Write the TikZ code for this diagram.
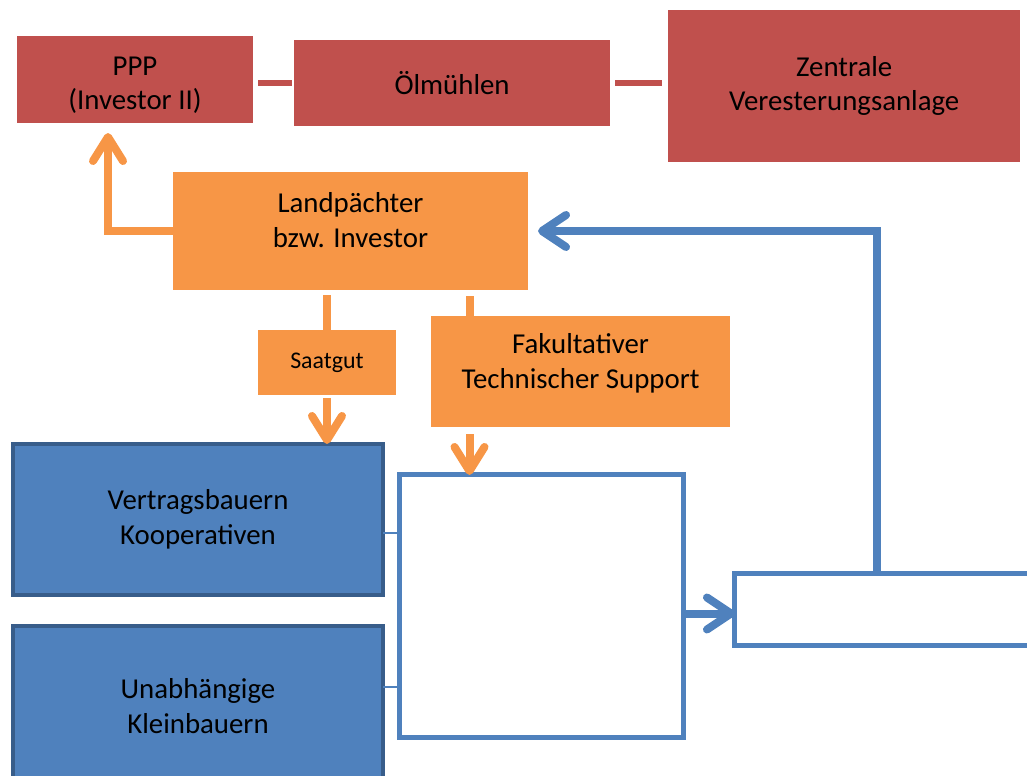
\documentclass[tikz,border=0pt]{standalone}
\usepackage{fontspec}
\setmainfont{Carlito}
\usepackage{xcolor}
\definecolor{boxred}{HTML}{C0504D}
\definecolor{boxorange}{HTML}{F79646}
\definecolor{boxblue}{HTML}{4F81BD}
\definecolor{darkblue}{HTML}{385D8A}
\usepackage{tikz}
\usetikzlibrary{positioning, arrows.meta, calc}

\begin{document}
\begin{tikzpicture}[x=0.025cm, y=-0.025cm, node distance=1cm,
    every node/.style={font=\fontsize{20.5}{24.5}\selectfont, align=center, inner sep=0pt, outer sep=0pt},
    redbox/.style={rectangle, fill=boxred},
    orangebox/.style={rectangle, fill=boxorange},
    farmbox/.style={rectangle, fill=boxblue, draw=darkblue, line width=0.1cm},
    openbox/.style={rectangle, fill=white, draw=boxblue, line width=0.125cm},
    redlink/.style={boxred, line width=0.16cm},
    orangelink/.style={boxorange, line width=0.2cm},
    orangearrow/.style={orangelink, -{Straight Barb[length=0.6cm, width=0.75cm, round]}},
    bluelink/.style={boxblue, line width=0.2cm},
    bluearrow/.style={bluelink, -{Straight Barb[length=0.6cm, width=0.8cm, round]}},
    thinlink/.style={boxblue, line width=0.05cm}]
    \useasboundingbox (0,0) rectangle (1027,776);

    % processing chain
    \node [redbox, minimum width=5.9cm, minimum height=2.175cm, text height=1.6cm] (ppp) at (135,79.5) {PPP\\(Investor II)};
    \node [redbox, minimum width=7.9cm, minimum height=2.15cm, right=1.025cm of ppp, yshift=-0.09cm] (oel) {Ölmühlen};
    \node [redbox, minimum width=8.8cm, minimum height=3.8cm, right=1.45cm of oel, yshift=-0.075cm] (zentral) {Zentrale\\Veresterungsanlage};

    % investor and inputs
    \node [orangebox, minimum width=8.875cm, minimum height=2.95cm, text depth=0.55cm] (land) at (350.5,231) {Landpächter\\bzw. Investor};
    \node [orangebox, minimum width=3.45cm, minimum height=1.625cm, font=\fontsize{17}{20}\selectfont, below=1cm of land, xshift=-0.5875cm] (saat) {Saatgut};
    \node [orangebox, minimum width=7.475cm, minimum height=2.775cm, text depth=0.53cm, below=0.65cm of land, xshift=5.75cm] (support) {Fakultativer\\Technischer Support};

    % producers
    \node [farmbox, minimum width=9.25cm, minimum height=3.775cm] (vertrag) at (198,519.5) {Vertragsbauern\\Kooperativen};
    \node [farmbox, minimum width=9.25cm, minimum height=4cm, below=0.775cm of vertrag] (klein) {Unabhängige\\Kleinbauern};

    \node [openbox, minimum width=7.075cm, minimum height=6.55cm] (hub) at (541.5,606) {};
    \node [openbox, minimum width=7.5cm, minimum height=1.775cm] (ziel) at (885,609.5) {};

    \coordinate (pppin) at (108,133);
    \coordinate (supin) at (469.5,0);

    \draw [redlink, shorten <=0.125cm, shorten >=0.05cm] (ppp.east |- oel.west) -- (oel.west);
    \draw [redlink, shorten <=0.125cm, shorten >=0.15cm] (oel.east) -- (oel.east -| zentral.west);
    \draw [orangearrow] (land.west) -| (pppin);
    \draw [orangelink, shorten <=0.125cm] (saat.north |- land.south) -- (saat.north);
    \draw [orangelink, shorten <=0.15cm] (land.south -| supin) -- (support.north -| supin);
    \draw [orangearrow, shorten <=0.075cm] (saat.south) -- (saat.south |- vertrag.north);
    \draw [orangearrow, shorten <=0.175cm] (support.south -| supin) -- (hub.north -| supin);
    \draw [thinlink] ([yshift=-0.34cm]vertrag.east) -- ([yshift=-0.34cm]vertrag.east -| hub.west);
    \draw [thinlink] ([yshift=0.475cm]klein.east) -- ([yshift=0.475cm]klein.east -| hub.west);
    \draw [bluearrow] ([yshift=-0.1cm]ziel.west -| hub.east) -- ([yshift=-0.1cm]ziel.west);
    \draw [bluearrow, shorten >=0.25cm] ([xshift=-0.2cm]ziel.north) |- (land.east);
\end{tikzpicture}
\end{document}
